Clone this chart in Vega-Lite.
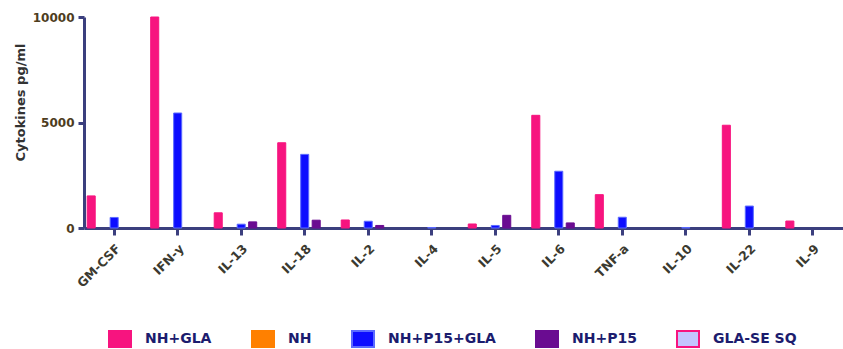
{
  "$schema": "https://vega.github.io/schema/vega-lite/v6.json",
  "width": 759,
  "height": 211,
  "autosize": {"type": "none"},
  "padding": {"left": 84, "top": 17, "right": 0, "bottom": 121},
  "config": {"view": {"stroke": null}, "font": "DejaVu Sans"},
  "data": {
    "values": [
      {"cytokine": "GM-CSF", "group": "NH+GLA", "value": 1520},
      {"cytokine": "GM-CSF", "group": "NH+P15+GLA", "value": 500},
      {"cytokine": "IFN-y", "group": "NH+GLA", "value": 10000},
      {"cytokine": "IFN-y", "group": "NH+P15+GLA", "value": 5450},
      {"cytokine": "IL-13", "group": "NH+GLA", "value": 720},
      {"cytokine": "IL-13", "group": "NH+P15+GLA", "value": 180},
      {"cytokine": "IL-13", "group": "NH+P15", "value": 290},
      {"cytokine": "IL-18", "group": "NH+GLA", "value": 4040},
      {"cytokine": "IL-18", "group": "NH+P15+GLA", "value": 3490},
      {"cytokine": "IL-18", "group": "NH+P15", "value": 370},
      {"cytokine": "IL-2", "group": "NH+GLA", "value": 380},
      {"cytokine": "IL-2", "group": "NH+P15+GLA", "value": 320},
      {"cytokine": "IL-2", "group": "NH+P15", "value": 120},
      {"cytokine": "IL-4", "group": "NH+P15+GLA", "value": 20},
      {"cytokine": "IL-5", "group": "NH+GLA", "value": 190},
      {"cytokine": "IL-5", "group": "NH+P15+GLA", "value": 120},
      {"cytokine": "IL-5", "group": "NH+P15", "value": 600},
      {"cytokine": "IL-6", "group": "NH+GLA", "value": 5340},
      {"cytokine": "IL-6", "group": "NH+P15+GLA", "value": 2690},
      {"cytokine": "IL-6", "group": "NH+P15", "value": 240},
      {"cytokine": "TNF-a", "group": "NH+GLA", "value": 1580},
      {"cytokine": "TNF-a", "group": "NH+P15+GLA", "value": 510},
      {"cytokine": "IL-10", "group": "NH+P15+GLA", "value": 20},
      {"cytokine": "IL-22", "group": "NH+GLA", "value": 4870},
      {"cytokine": "IL-22", "group": "NH+P15+GLA", "value": 1040},
      {"cytokine": "IL-9", "group": "NH+GLA", "value": 330}
    ]
  },
  "mark": {"type": "bar", "strokeWidth": 1},
  "encoding": {
    "x": {
      "field": "cytokine",
      "type": "nominal",
      "sort": ["GM-CSF", "IFN-y", "IL-13", "IL-18", "IL-2", "IL-4", "IL-5", "IL-6", "TNF-a", "IL-10", "IL-22", "IL-9"],
      "scale": {"paddingInner": 0.15, "paddingOuter": 0.05},
      "axis": {
        "title": null,
        "labelAngle": -45,
        "labelFont": "DejaVu Sans",
        "labelFontWeight": "bold",
        "labelFontSize": 12.5,
        "labelColor": "#3b3a30",
        "labelPadding": 7,
        "domainColor": "#3b3f7e",
        "domainWidth": 3,
        "tickColor": "#3b3f7e",
        "tickWidth": 3,
        "tickSize": 7
      }
    },
    "xOffset": {
      "field": "group",
      "type": "nominal",
      "scale": {
        "domain": ["NH+GLA", "NH", "NH+P15+GLA", "NH+P15", "GLA-SE SQ"],
        "paddingInner": 0.3,
        "paddingOuter": 0
      }
    },
    "y": {
      "field": "value",
      "type": "quantitative",
      "scale": {"domain": [0, 10000], "nice": false},
      "axis": {
        "title": "Cytokines pg/ml",
        "values": [0, 5000, 10000],
        "format": "d",
        "grid": false,
        "domainColor": "#3b3f7e",
        "domainWidth": 3,
        "tickColor": "#3b3f7e",
        "tickWidth": 3,
        "tickSize": 6,
        "labelFont": "DejaVu Sans",
        "labelFontWeight": "bold",
        "labelFontSize": 12,
        "labelColor": "#4e3d1e",
        "labelPadding": 4,
        "titleFont": "DejaVu Sans",
        "titleFontSize": 13,
        "titleFontWeight": "bold",
        "titleColor": "#333333",
        "titleAngle": -90,
        "titleX": -64,
        "titleY": 85,
        "titleAlign": "center",
        "titleBaseline": "middle"
      }
    },
    "color": {
      "field": "group",
      "type": "nominal",
      "scale": {
        "domain": ["NH+GLA", "NH", "NH+P15+GLA", "NH+P15", "GLA-SE SQ"],
        "range": ["#f7147f", "#ff8000", "#0d0dff", "#6a0c91", "#c4c4ff"]
      },
      "legend": {
        "title": null,
        "orient": "none",
        "legendX": 24,
        "legendY": 310,
        "direction": "horizontal",
        "padding": 0,
        "symbolType": "M-1,-0.727H1V0.727H-1Z",
        "symbolSize": 484,
        "symbolOpacity": 1,
        "symbolStrokeWidth": 2,
        "labelFont": "DejaVu Sans",
        "labelFontWeight": "bold",
        "labelFontSize": 14,
        "labelColor": "#1c1c6e",
        "labelOffset": 13,
        "columnPadding": 36,
        "labelLimit": 300,
        "encode": {
          "symbols": {
            "update": {
              "stroke": {"signal": "datum.value === 'GLA-SE SQ' ? '#f7147f' : datum.value === 'NH+P15+GLA' ? '#5b6bff' : 'transparent'"}
            }
          }
        }
      }
    },
    "stroke": {
      "field": "group",
      "type": "nominal",
      "scale": {
        "domain": ["NH+GLA", "NH", "NH+P15+GLA", "NH+P15", "GLA-SE SQ"],
        "range": ["#f7147f", "#ff8000", "#5b6bff", "#6a0c91", "#f7147f"]
      },
      "legend": null
    }
  }
}
